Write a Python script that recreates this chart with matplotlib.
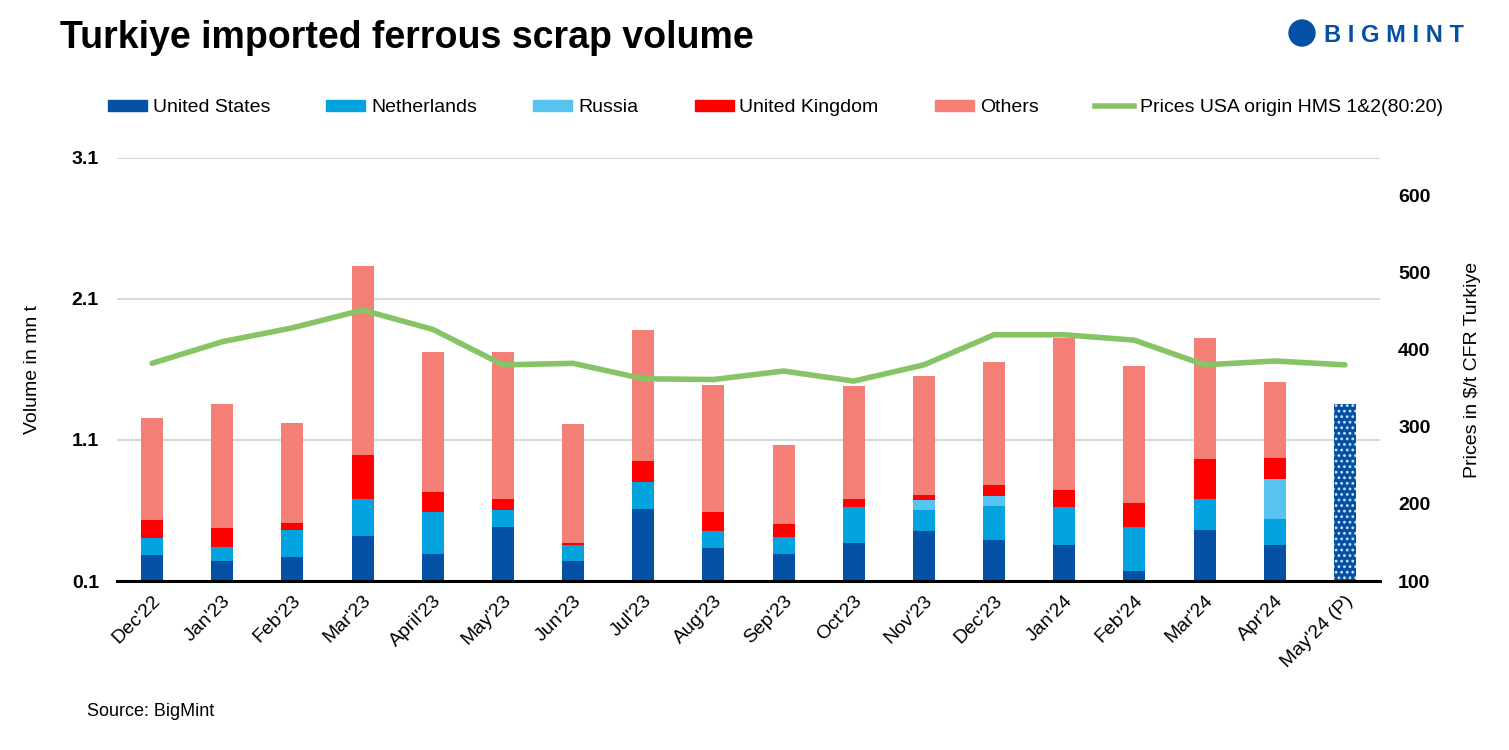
import matplotlib
matplotlib.use("Agg")
import matplotlib.pyplot as plt
import numpy as np
from matplotlib.patches import Patch, Ellipse
from matplotlib.lines import Line2D

plt.rcParams["font.family"] = ["Liberation Sans", "DejaVu Sans"]
plt.rcParams["hatch.linewidth"] = 1.2

months = ["Dec'22", "Jan'23", "Feb'23", "Mar'23", "April'23", "May'23", "Jun'23",
          "Jul'23", "Aug'23", "Sep'23", "Oct'23", "Nov'23", "Dec'23", "Jan'24",
          "Feb'24", "Mar'24", "Apr'24", "May'24 (P)"]

# volumes in mn t (May'24 is a provisional total only)
us = [0.284, 0.242, 0.270, 0.419, 0.291, 0.485, 0.242, 0.611, 0.334, 0.291,
      0.370, 0.455, 0.391, 0.355, 0.171, 0.462, 0.355, 0]
netherlands = [0.123, 0.101, 0.192, 0.263, 0.298, 0.119, 0.113, 0.191, 0.121, 0.121,
               0.255, 0.149, 0.241, 0.270, 0.312, 0.220, 0.185, 0]
russia = [0, 0, 0, 0, 0, 0, 0, 0, 0, 0, 0, 0.070, 0.071, 0, 0, 0, 0.283, 0]
uk = [0.126, 0.135, 0.049, 0.312, 0.142, 0.078, 0.015, 0.149, 0.134, 0.092,
      0.057, 0.036, 0.078, 0.120, 0.170, 0.283, 0.149, 0]
others = [0.723, 0.877, 0.710, 1.340, 0.993, 1.042, 0.843, 0.929, 0.901, 0.561,
          0.801, 0.844, 0.872, 1.078, 0.972, 0.858, 0.539, 0]
may_total = 1.355

prices = [382, 410, 428, 451, 426, 380, 382, 362, 361, 372, 359, 380, 419, 419,
          412, 380, 385, 380]

c_us = "#0450a4"
c_nl = "#03a3e0"
c_ru = "#56c3f0"
c_uk = "#ff0000"
c_ot = "#f47f77"
c_pr = "#86c466"

fig = plt.figure(figsize=(15.09, 7.5), dpi=100)
ax = fig.add_axes([117 / 1509, 1 - 581 / 750, (1380 - 117) / 1509, (581 - 158) / 750])

x = np.arange(len(months))
w = 0.314
bottom = np.zeros(len(months))
for vals, col in [(us, c_us), (netherlands, c_nl), (russia, c_ru), (uk, c_uk), (others, c_ot)]:
    ax.bar(x, vals, w, bottom=bottom, color=col, zorder=2)
    bottom += np.array(vals)

ax.bar(x[-1], may_total, w, color=c_us, edgecolor="#d6e0ee", hatch="...",
       linewidth=0, zorder=2)

ax.set_ylim(0.1, 3.1)
ax.set_xlim(-0.5, len(months) - 0.5)
ax.set_yticks([0.1, 1.1, 2.1, 3.1])
ax.set_yticklabels(["0.1", "1.1", "2.1", "3.1"], fontsize=14, fontweight="bold")
ax.yaxis.grid(True, color="#d9d9d9", linewidth=1.5, zorder=0)
ax.tick_params(axis="y", length=0, pad=13)
ax.set_xticks(x)
ax.set_xticklabels(months, rotation=45, ha="right", rotation_mode="anchor", fontsize=14)
ax.tick_params(axis="x", length=0, pad=8)
for s in ["top", "right", "left"]:
    ax.spines[s].set_visible(False)
ax.spines["bottom"].set_linewidth(2.2)
ax.spines["bottom"].set_zorder(4)
ax.set_ylabel("Volume in mn t", fontsize=14, labelpad=22)

ax2 = ax.twinx()
ax2.plot(x, prices, color=c_pr, linewidth=4, solid_capstyle="round", zorder=3)
ax2.set_ylim(100, 648)
ax2.set_yticks([100, 200, 300, 400, 500, 600])
ax2.set_yticklabels(["100", "200", "300", "400", "500", "600"], fontsize=14, fontweight="bold")
ax2.tick_params(axis="y", length=0, pad=13)
for s in ["top", "right", "left", "bottom"]:
    ax2.spines[s].set_visible(False)
ax2.set_ylabel("Prices in $/t CFR Turkiye", fontsize=14, labelpad=24)

handles = [
    Patch(color=c_us, label="United States"),
    Patch(color=c_nl, label="Netherlands"),
    Patch(color=c_ru, label="Russia"),
    Patch(color=c_uk, label="United Kingdom"),
    Patch(color=c_ot, label="Others"),
    Line2D([0], [0], color=c_pr, linewidth=4, label="Prices USA origin HMS 1&2(80:20)"),
]
fig.legend(handles=handles, loc="center left", bbox_to_anchor=(108 / 1509, 1 - 108 / 750),
           ncol=6, frameon=False, fontsize=14, handlelength=2.0, handleheight=0.55,
           handletextpad=0.3, columnspacing=2.9, borderpad=0, borderaxespad=0)

fig.text(60 / 1509, 1 - 38 / 750, "Turkiye imported ferrous scrap volume",
         fontsize=27, fontweight="bold", va="center", ha="left")
fig.text(87 / 1509, 1 - 711 / 750, "Source: BigMint", fontsize=13, va="center", ha="left")

# logo
fig.patches.append(Ellipse((1302 / 1509, 1 - 33 / 750), 26 / 1509, 26 / 750,
                           transform=fig.transFigure, color=c_us, zorder=5))
fig.text(1324 / 1509, 1 - 35 / 750, "B I G M I N T", fontsize=17, fontweight="bold",
         color=c_us, va="center", ha="left")

fig.savefig("out.png", dpi=100)
